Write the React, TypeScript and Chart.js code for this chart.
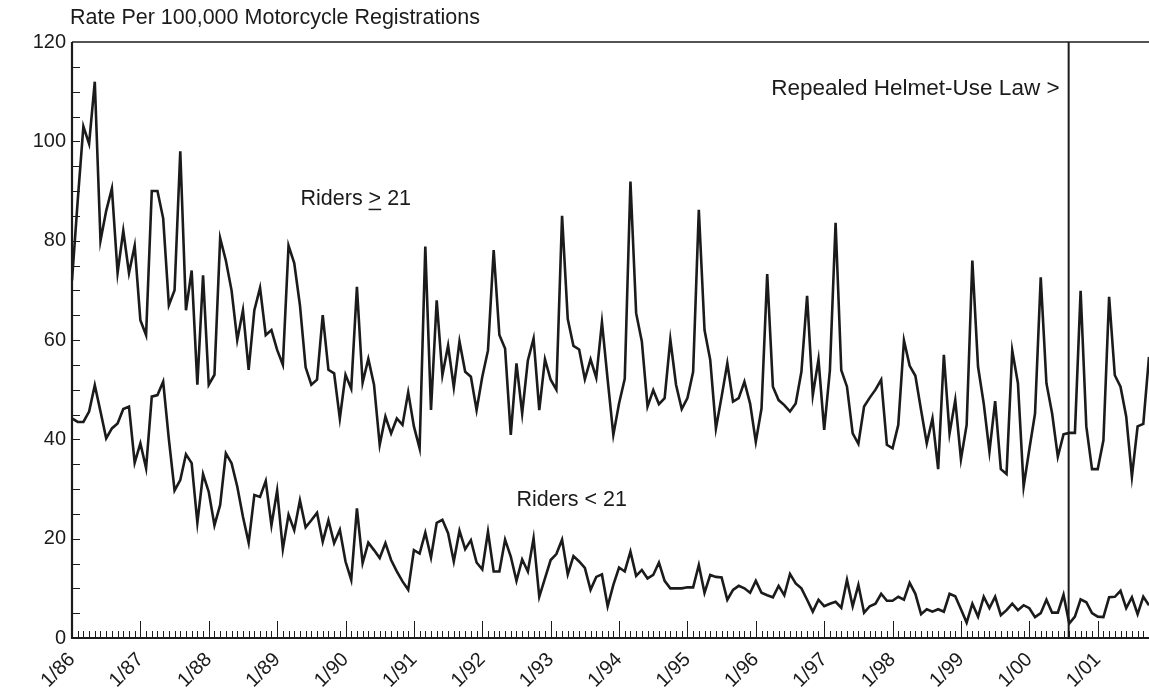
import React, { useEffect, useRef } from "react";
import { Chart, registerables } from "chart.js";

Chart.register(...registerables);

// ---------- data ----------
const YEARS = ["86", "87", "88", "89", "90", "91", "92", "93", "94", "95", "96", "97", "98", "99", "00", "01"];
const MONTHS = [1, 2, 3, 4, 5, 6, 7, 8, 9, 10, 11, 12];
const MONTH_LABELS = YEARS.flatMap((y) => MONTHS.map((m) => `${m}/${y}`)).slice(0, 190);

// Rate per 100,000 motorcycle registrations, riders aged 21 and over (1/86 onward)
const RIDERS_21_AND_OVER = [
  72, 88, 103, 99.5, 112, 80, 86, 90.5, 73.5, 82, 73.5, 79,
  64, 61, 90, 90, 84.5, 67, 70, 98, 66, 74, 51, 73,
  51, 53, 80.5, 76, 70, 60, 66, 54, 66, 70.5, 61, 62,
  58, 55, 79, 75.5, 67, 54.5, 51, 52, 65, 54, 53.3, 44.2,
  53, 50.2, 70.7, 51.4, 56.2, 51, 38.9, 44.6, 41.2, 44.2, 42.9, 49.5,
  42.6, 38.2, 78.8, 45.9, 68, 52.9, 58.9, 50.5, 59.7, 53.6, 52.6, 45.9,
  52.6, 57.9, 78.1, 61, 58.3, 40.9, 55.3, 45.2, 55.9, 60.3, 45.9, 56.1,
  52, 50, 85, 64.2, 58.8, 58.1, 52.1, 56.1, 52.4, 63.6, 52, 40.9,
  47.2, 52.2, 91.9, 65.4, 59.7, 46.6, 49.9, 47.1, 48.3, 60.1, 51, 46.1,
  48.3, 53.6, 86.2, 62, 56, 42.2, 48.6, 55.3, 47.6, 48.3, 51.6, 47.2,
  39.5, 46.2, 73.3, 50.6, 47.9, 46.9, 45.6, 47.2, 53.6, 68.9, 48.9, 56.1,
  41.9, 53.9, 83.6, 53.9, 50.6, 41.2, 39.1, 46.6, 48.4, 50, 52, 38.9,
  38.2, 42.9, 59.9, 54.8, 52.8, 45.9, 39.2, 44.2, 34, 57, 41.2, 47.9,
  36, 42.9, 76, 54.6, 47.2, 37.5, 47.7, 34, 33, 57.9, 51.3, 30.5,
  38, 45.2, 72.6, 51.3, 45.2, 36.5, 41, 41.3, 41.3, 69.9, 42.6, 34,
  34, 39.8, 68.7, 52.9, 50.6, 44.6, 32.5, 42.6, 43.1, 56.6,
];

// Rate per 100,000 motorcycle registrations, riders under 21 (1/86 onward)
const RIDERS_UNDER_21 = [
  44.2, 43.5, 43.5, 45.6, 50.9, 45.6, 40.2, 42.2, 43.2, 46.1, 46.6, 35.3,
  39.2, 34.2, 48.6, 48.9, 51.6, 40, 29.7, 31.8, 37, 35.2, 23.2, 33,
  29.4, 22.7, 26.8, 37.2, 35.2, 30.5, 24.4, 19.2, 28.8, 28.4, 31.6, 22.7,
  29.7, 17.9, 24.8, 21.7, 27.7, 22.3, 23.7, 25.2, 19.4, 23.7, 19.1, 21.8,
  15.4, 11.7, 26.1, 15.1, 19.2, 17.7, 16.1, 19.1, 15.7, 13.4, 11.4, 9.7,
  17.7, 17, 21.2, 16.2, 23.2, 23.8, 21.1, 15.4, 21.6, 17.9, 19.7, 15.2,
  13.8, 21.4, 13.4, 13.4, 19.8, 16.4, 11.5, 15.8, 13.4, 20.1, 8.3, 12,
  15.7, 16.9, 19.8, 12.8, 16.5, 15.4, 14.1, 9.7, 12.3, 12.8, 6.4, 10.7,
  14.2, 13.4, 17.4, 12.5, 13.7, 12, 12.7, 15.2, 11.5, 10, 10, 10,
  10.2, 10.2, 14.7, 9.1, 12.7, 12.3, 12.2, 7.7, 9.7, 10.5, 10, 9.1,
  11.5, 9.1, 8.6, 8.2, 10.5, 8.6, 12.9, 11, 10, 7.7, 5.3, 7.7,
  6.4, 6.9, 7.3, 6.1, 11.7, 6.4, 10.7, 5.1, 6.4, 6.9, 8.9, 7.5,
  7.5, 8.3, 7.7, 11.1, 8.9, 4.8, 5.8, 5.3, 5.8, 5.3, 8.9, 8.4,
  5.8, 3.1, 6.9, 4.3, 8.3, 6, 8.3, 4.6, 5.6, 6.9, 5.6, 6.6,
  6, 4.2, 5, 7.7, 5.1, 5.1, 8.7, 2.9, 4.3, 7.8, 7.2, 5,
  4.3, 4.2, 8.2, 8.3, 9.5, 6, 8.2, 4.8, 8.3, 6.6,
];

const Y_MIN = 0;
const Y_MAX = 120;
const Y_LABEL_STEP = 20;
const Y_MINOR_STEP = 5;
const REPEAL_MONTH_INDEX = 174.9;

const TITLE_TEXT = "Rate Per 100,000 Motorcycle Registrations";
const REPEAL_TEXT = "Repealed Helmet-Use Law >";
const GE21_PREFIX = "Riders ";
const GE21_SIGN = ">";
const GE21_SUFFIX = " 21";
const LT21_TEXT = "Riders < 21";

export default function App() {
  const ref = useRef<HTMLCanvasElement | null>(null);

  useEffect(() => {
    document.body.style.margin = "0";
    const canvas = ref.current;
    if (!canvas) return;
    const INK = "#1b1b1b";
    const FONT = '"Liberation Sans", Arial, Helvetica, sans-serif';

    const framePlugin = {
      id: "frame",
      afterDatasetsDraw(chart: any) {
        const { ctx, chartArea } = chart;
        const xs = chart.scales.x;
        const ys = chart.scales.y;
        const { left, right, top, bottom } = chartArea;
        ctx.save();
        ctx.strokeStyle = INK;
        ctx.fillStyle = INK;
        ctx.lineCap = "butt";

        // top border
        ctx.lineWidth = 1.5;
        ctx.beginPath();
        ctx.moveTo(left, top);
        ctx.lineTo(right, top);
        ctx.stroke();

        // axes
        ctx.lineWidth = 2.2;
        ctx.beginPath();
        ctx.moveTo(left, top);
        ctx.lineTo(left, bottom);
        ctx.lineTo(right, bottom);
        ctx.stroke();

        // y minor ticks (inside)
        ctx.lineWidth = 1;
        for (let v = Y_MIN + Y_MINOR_STEP; v < Y_MAX; v += Y_MINOR_STEP) {
          const y = Math.round(ys.getPixelForValue(v)) + 0.5;
          ctx.beginPath();
          ctx.moveTo(left, y);
          ctx.lineTo(left + 8, y);
          ctx.stroke();
        }

        // x monthly ticks (inside), longer at each January
        for (let i = 0; i < MONTH_LABELS.length; i++) {
          const x = Math.round(xs.getPixelForValue(i)) + 0.5;
          const len = MONTH_LABELS[i].startsWith("1/") ? 17 : 7;
          ctx.beginPath();
          ctx.moveTo(x, bottom);
          ctx.lineTo(x, bottom - len);
          ctx.stroke();
        }

        // repeal line
        const rx = xs.getPixelForValue(REPEAL_MONTH_INDEX);
        ctx.lineWidth = 2;
        ctx.beginPath();
        ctx.moveTo(rx, top);
        ctx.lineTo(rx, bottom);
        ctx.stroke();

        // texts
        ctx.font = `22.5px ${FONT}`;
        ctx.textBaseline = "middle";

        ctx.textAlign = "right";
        ctx.fillText(REPEAL_TEXT, xs.getPixelForValue(173.3), ys.getPixelForValue(110.6));

        ctx.font = `21.5px ${FONT}`;
        ctx.textAlign = "left";
        const gx = xs.getPixelForValue(40.1);
        const gy = ys.getPixelForValue(88.3);
        ctx.fillText(GE21_PREFIX + GE21_SIGN + GE21_SUFFIX, gx, gy);
        const pw = ctx.measureText(GE21_PREFIX).width;
        const sw = ctx.measureText(GE21_SIGN).width;
        ctx.lineWidth = 1.5;
        ctx.beginPath();
        ctx.moveTo(gx + pw, gy + 10);
        ctx.lineTo(gx + pw + sw, gy + 10);
        ctx.stroke();

        ctx.fillText(LT21_TEXT, xs.getPixelForValue(78), ys.getPixelForValue(27.8));

        // title (axis caption)
        ctx.font = `21.5px ${FONT}`;
        ctx.fillText(TITLE_TEXT, left - 2, top - 24);
        ctx.restore();
      },
    };

    const chart = new Chart(canvas, {
      type: "line",
      data: {
        labels: MONTH_LABELS,
        datasets: [
          {
            label: "Riders ≥ 21",
            data: RIDERS_21_AND_OVER,
            borderColor: INK,
            borderWidth: 2.6,
            pointRadius: 0,
            tension: 0,
            fill: false,
          },
          {
            label: "Riders < 21",
            data: RIDERS_UNDER_21,
            borderColor: INK,
            borderWidth: 2.6,
            pointRadius: 0,
            tension: 0,
            fill: false,
          },
        ],
      },
      options: {
        responsive: false,
        animation: false,
        devicePixelRatio: 1,
        layout: { padding: { top: 42, left: 0, right: 0, bottom: 0 } },
        plugins: {
          legend: { display: false },
          tooltip: { enabled: false },
          title: { display: false },
        },
        scales: {
          x: {
            type: "category",
            grid: { display: false, drawTicks: false },
            border: { display: false },
            ticks: {
              autoSkip: false,
              minRotation: 45,
              maxRotation: 45,
              padding: 10,
              color: INK,
              font: { family: FONT, size: 20 },
            },
            afterBuildTicks: (s: any) => {
              s.ticks = s.ticks.filter((t: any) => t.value % 12 === 0);
            },
            afterFit: (s: any) => {
              s.height = 62;
              s.paddingLeft = 0;
              s.paddingRight = 0;
            },
          },
          y: {
            min: Y_MIN,
            max: Y_MAX,
            grid: { display: false, drawTicks: false },
            border: { display: false },
            ticks: {
              stepSize: Y_LABEL_STEP,
              padding: 6,
              color: INK,
              font: { family: FONT, size: 20 },
            },
            afterFit: (s: any) => {
              s.width = 72;
              s.paddingTop = 0;
              s.paddingBottom = 0;
            },
          },
        },
      },
      plugins: [framePlugin],
    } as any);

    return () => chart.destroy();
  }, []);

  return (
    <div style={{ width: 1149, height: 700 }}>
      <canvas ref={ref} width={1149} height={700} />
    </div>
  );
}
